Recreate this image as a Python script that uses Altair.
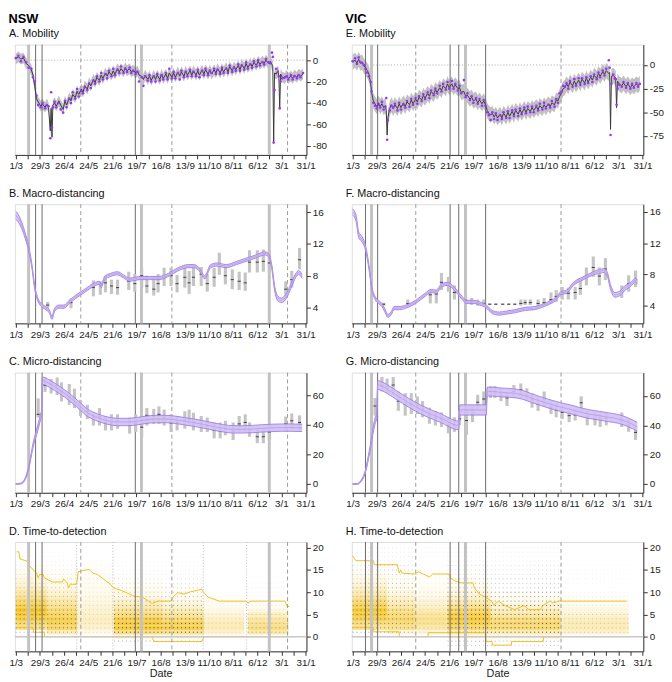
import json
import altair as alt
import pandas as pd

FONT = "Liberation Sans"
PW = 296
HEIGHTS = [112, 121, 122, 111]
X_DOMAIN = [-1, 337]
TICK_DAYS = list(range(0, 337, 14))
TICK_TEXT = ["1/3", "", "29/3", "", "26/4", "", "24/5", "", "21/6", "", "19/7", "", "16/8", "",
             "13/9", "", "11/10", "", "8/11", "", "6/12", "", "3/1", "", "31/1"]
LABEL_EXPR = "%s[round(datum.value / 14)]" % json.dumps(TICK_TEXT)

# ---------------- event lines (days since 1 March 2020) ----------------
nsw_thin = [23, 30.5, 138.6]
nsw_thick = [14.9, 145.7, 293.9]
nsw_dashed = [75.4, 181, 315.1]
nsw_dotted = [70.6, 112.6, 217.4, 267.6]
vic_thin = [14.9, 29, 113, 123, 154.2]
vic_thick = [21.9, 130.8]
vic_dashed = [73.2, 241.6]
vic_dotted = []

# ---------------- mobility: (day, fitted, observed) ----------------
nsw_mobility = [
    (0, 1, 2), (3, 3, 4), (6, 1, -1), (9, 2, 3), (12, -3, -2), (15, -5, -7), (18, -9, -8), (20, -14, -16),
    (22, -24, -20), (24, -36, -33), (26, -39, -42), (29, -43, -44), (31, -41, -40), (34, -44, -45),
    (36, -41, -42), (38, -44, -43), (40, -66, -73), (41, -45, -30), (42, -72, -63), (43, -42, -44),
    (45, -40, -39), (47, -43, -44), (50, -38, -40), (52, -42, -46), (55, -46, -49), (57, -38, -38),
    (59, -42, -44), (62, -35, -36), (64, -38, -40), (66, -32, -30), (69, -35, -36), (71, -29, -27),
    (73, -32, -34), (76, -27, -29), (78, -30, -31), (80, -24, -25), (83, -27, -28), (85, -21, -22),
    (87, -24, -26), (90, -18, -19), (92, -21, -22), (94, -16, -15), (97, -19, -20), (99, -14, -12),
    (101, -17, -18), (104, -12, -13), (106, -15, -17), (108, -11, -10), (111, -14, -15), (113, -10, -8),
    (115, -13, -14), (118, -8, -9), (120, -11, -12), (122, -8, -6), (125, -11, -12), (127, -7, -8),
    (129, -10, -11), (132, -8, -7), (134, -11, -12), (136, -9, -10), (139, -12, -13), (141, -10, -11),
    (143, -14, -20), (146, -15, -16), (148, -18, -24), (150, -14, -15), (153, -18, -19), (155, -15, -14),
    (157, -19, -20), (160, -14, -15), (162, -18, -20), (164, -14, -13), (167, -18, -19), (169, -13, -14),
    (171, -17, -18), (174, -13, -12), (176, -17, -18), (178, -12, -8), (181, -16, -17), (183, -12, -11),
    (185, -16, -17), (188, -11, -12), (190, -15, -18), (192, -11, -10), (195, -15, -16), (197, -10, -11),
    (199, -14, -15), (202, -10, -9), (204, -14, -15), (206, -10, -11), (209, -14, -15), (211, -10, -9),
    (213, -14, -16), (216, -9, -10), (218, -13, -14), (220, -9, -8), (223, -13, -14), (225, -9, -10),
    (227, -13, -12), (230, -9, -8), (232, -12, -13), (234, -8, -9), (237, -12, -13), (239, -8, -7),
    (241, -11, -12), (244, -7, -8), (246, -11, -12), (248, -6, -5), (251, -10, -11), (253, -6, -7),
    (255, -9, -10), (258, -5, -4), (260, -9, -10), (262, -4, -5), (265, -8, -9), (267, -3, -2),
    (269, -7, -8), (272, -3, -4), (274, -6, -7), (276, -2, -1), (279, -5, -6), (281, -1, 0),
    (283, -4, -5), (286, -1, -2), (288, -3, -4), (290, 0, 1), (293, -3, -2), (295, -1, -3),
    (297, -4, 7), (298, -6, 3), (299, -76, -77), (300, -12, -28), (302, -13, -8), (304, -10, -11),
    (305, -14, -15), (306, -45, -45), (307, -13, -20), (309, -16, -17), (312, -17, -16), (314, -14, -15),
    (316, -17, -18), (319, -15, -14), (321, -17, -18), (323, -14, -15), (326, -16, -17), (328, -13, -14),
    (330, -15, -16), (333, -13, -12),
]
vic_mobility = [
    (0, 3, 4), (3, 5, 7), (5, 2, 1), (7, 6, 8), (9, 2, 3), (11, 3, 2), (13, -1, 0), (15, -3, -4),
    (17, -6, -8), (19, -10, -12), (21, -20, -18), (22, -29, -28), (24, -38, -40), (26, -41, -43),
    (28, -44, -46), (30, -40, -42), (32, -44, -45), (34, -41, -39), (36, -45, -47), (38, -43, -44),
    (39, -48, -35), (40, -74, -79), (41, -55, -58), (43, -46, -48), (45, -42, -43), (47, -46, -45),
    (49, -42, -41), (52, -46, -48), (54, -41, -40), (56, -45, -47), (59, -40, -42), (61, -44, -45),
    (63, -39, -38), (66, -42, -44), (68, -37, -36), (70, -41, -42), (73, -36, -35), (75, -39, -41),
    (77, -34, -33), (80, -37, -38), (82, -32, -31), (84, -35, -36), (87, -30, -29), (89, -33, -35),
    (91, -28, -27), (94, -31, -32), (96, -26, -25), (98, -29, -30), (101, -24, -22), (103, -27, -28),
    (105, -22, -20), (108, -25, -26), (110, -20, -18), (112, -24, -25), (115, -20, -17), (117, -24, -25),
    (119, -21, -20), (122, -25, -27), (124, -24, -22), (126, -29, -30), (129, -28, -16), (131, -33, -34),
    (133, -32, -30), (136, -36, -37), (138, -34, -33), (140, -38, -40), (143, -36, -35), (145, -40, -41),
    (147, -37, -36), (150, -41, -43), (152, -38, -37), (154, -42, -43), (156, -48, -50), (158, -51, -53),
    (160, -53, -58), (162, -51, -50), (164, -55, -57), (166, -52, -51), (168, -56, -58), (171, -52, -53),
    (173, -56, -57), (175, -51, -50), (178, -55, -56), (180, -50, -49), (182, -54, -56), (185, -49, -48),
    (187, -53, -54), (189, -48, -47), (192, -52, -54), (194, -47, -46), (196, -51, -52), (199, -46, -45),
    (201, -50, -51), (203, -46, -44), (206, -49, -50), (208, -45, -44), (210, -48, -50), (213, -44, -43),
    (215, -47, -48), (217, -43, -41), (220, -46, -47), (222, -42, -40), (224, -45, -46), (227, -41, -42),
    (229, -44, -45), (231, -40, -38), (234, -42, -44), (236, -37, -36), (238, -38, -40), (240, -33, -30),
    (242, -30, -28), (244, -25, -22), (246, -24, -23), (248, -20, -19), (250, -23, -25), (252, -18, -17),
    (255, -22, -23), (257, -17, -15), (259, -21, -22), (262, -16, -14), (264, -20, -21), (266, -15, -14),
    (269, -19, -20), (271, -14, -13), (273, -18, -19), (276, -13, -12), (278, -16, -18), (280, -11, -10),
    (283, -14, -15), (285, -9, -8), (287, -12, -13), (290, -7, -6), (292, -10, -11), (294, -6, -4),
    (297, -9, 5), (298, -8, -3), (299, -68, -74), (300, -12, -20), (302, -11, -10), (304, -13, -14),
    (305, -14, -15), (306, -45, -42), (307, -17, -25), (309, -20, -21), (312, -22, -23), (314, -19, -18),
    (317, -23, -24), (319, -20, -19), (322, -24, -25), (324, -21, -20), (326, -23, -24), (329, -20, -19),
    (331, -22, -23), (333, -19, -20),
]
mobility_band_half = {"NSW": 5, "VIC": 8}

# ---------------- macro-distancing: model (day, mid, half) and survey (day, lo, hi, mean) -------------
nsw_macro_fit = [
    (0, 15.6, 0.5), (1, 15.5, 0.5), (7, 14.3, 0.4), (11, 13, 0.35), (15, 11.4, 0.3), (19, 9, 0.25),
    (22, 6.5, 0.25), (26, 4.9, 0.2), (30, 4.3, 0.2), (35, 3.9, 0.2), (39, 3.5, 0.2), (42, 2.7, 0.2),
    (45, 3.7, 0.2), (50, 4.1, 0.2), (56, 4.1, 0.2), (62, 4.7, 0.2), (69, 5.3, 0.2), (80, 6.1, 0.2),
    (91, 6.9, 0.2), (97, 7.1, 0.2), (99, 6.7, 0.2), (103, 7.7, 0.2), (110, 8.1, 0.2), (118, 8.3, 0.2),
    (125, 7.9, 0.2), (132, 7.5, 0.2), (144, 7.7, 0.2), (155, 7.7, 0.2), (166, 7.7, 0.2), (177, 8.1, 0.2),
    (188, 8.8, 0.2), (200, 9.2, 0.2), (207, 9.2, 0.2), (214, 8.6, 0.2), (219, 7.8, 0.2), (226, 9.2, 0.2),
    (233, 9.4, 0.2), (244, 9.2, 0.2), (256, 9.6, 0.2), (267, 10, 0.2), (278, 10.4, 0.2), (289, 10.8, 0.2),
    (293, 10.6, 0.2), (297, 9, 0.25), (300, 6.5, 0.3), (304, 5.1, 0.3), (308, 4.9, 0.3), (314, 5.5, 0.3),
    (319, 6.7, 0.3), (325, 8.1, 0.25), (328, 8.4, 0.25), (332, 7.9, 0.25),
]
nsw_macro_survey = [
    (37, 3.9, 4.7, 4.3), (64, 3.9, 5.1, 4.6), (90, 5.4, 7.4, 6.5), (98, 5.6, 7.3, 6.9), (104, 5.9, 8.0, 7.1),
    (111, 5.7, 7.5, 6.7), (118, 5.6, 7.5, 6.5), (131, 6.2, 8.5, 7.3), (138, 6.0, 8.2, 7.0), (146, 6.6, 8.9, 8.0),
    (152, 5.8, 8.0, 6.7), (160, 5.5, 7.8, 6.3), (165, 5.9, 8.2, 7.0), (172, 6.7, 9.0, 7.8), (180, 6.7, 9.0, 8.0),
    (187, 5.9, 8.1, 7.0), (196, 6.5, 9.0, 7.8), (201, 5.7, 8.6, 7.1), (206, 6.7, 9.1, 7.8), (215, 6.7, 9.1, 8.2),
    (222, 6.0, 8.2, 7.0), (230, 6.6, 9.0, 7.8), (236, 8.1, 10.9, 9.4), (243, 6.9, 9.1, 8.0), (251, 6.3, 8.8, 7.5),
    (259, 6.2, 8.5, 7.3), (266, 6.1, 8.4, 7.1), (271, 8.4, 11.2, 9.7), (280, 8.4, 11.2, 9.7), (287, 8.5, 11.3, 9.8),
    (294, 8.4, 11.2, 9.6), (313, 5.3, 7.3, 6.3), (320, 6.5, 8.6, 7.5), (329, 8.8, 11.5, 10.0),
]
vic_macro_fit = [
    (0, 16, 0.4), (4, 15.2, 0.4), (7, 13.1, 0.35), (11, 12.5, 0.35), (15, 11.4, 0.3), (19, 8.9, 0.25),
    (22, 6.4, 0.2), (26, 5, 0.2), (30, 4.5, 0.2), (34, 4.1, 0.2), (37, 3.5, 0.2), (41, 2.7, 0.2),
    (45, 3.1, 0.2), (48, 3.7, 0.2), (54, 3.7, 0.2), (62, 3.9, 0.2), (73, 4.5, 0.2), (84, 5.4, 0.2),
    (91, 5.9, 0.2), (97, 5.8, 0.2), (103, 6.6, 0.2), (110, 6.8, 0.2), (116, 6.4, 0.2), (121, 5.8, 0.2),
    (127, 5, 0.2), (132, 4.5, 0.2), (140, 4.5, 0.2), (147, 4.3, 0.2), (155, 3.9, 0.2), (162, 3.2, 0.2),
    (170, 3, 0.2), (177, 3.1, 0.2), (188, 3.3, 0.2), (200, 3.6, 0.2), (211, 3.7, 0.2), (222, 4.1, 0.2),
    (230, 4.5, 0.2), (237, 5, 0.2), (241, 5.6, 0.2), (248, 5.8, 0.2), (256, 6.8, 0.2), (267, 7.5, 0.2),
    (278, 8.1, 0.2), (286, 8.4, 0.25), (291, 8.5, 0.25), (295, 8.1, 0.25), (299, 6.4, 0.3), (304, 5.4, 0.3),
    (310, 5.6, 0.3), (315, 6.2, 0.3), (323, 6.8, 0.25), (328, 7.3, 0.25), (330, 7, 0.25),
]
vic_macro_survey = [
    (36, 4.0, 4.4, 4.2), (64, 3.9, 4.8, 4.3), (90, 4.3, 6.0, 5.4), (97, 4.3, 6.0, 5.5), (103, 6.0, 8.2, 7.0),
    (111, 5.8, 7.7, 6.8), (118, 4.8, 6.6, 5.7), (131, 4.1, 5.4, 4.7), (138, 4.1, 5.0, 4.5), (145, 4.0, 4.8, 4.3),
    (152, 4.0, 4.8, 4.3), (159, 4.1, 4.3, 4.2), (166, 4.1, 4.3, 4.2), (174, 4.1, 4.3, 4.2), (181, 4.1, 4.3, 4.2),
    (188, 4.1, 4.3, 4.2), (195, 4.0, 4.8, 4.3), (200, 4.1, 4.8, 4.4), (206, 4.1, 4.8, 4.4), (215, 3.9, 4.8, 4.3),
    (222, 4.0, 5.0, 4.4), (230, 4.3, 5.7, 4.8), (236, 4.5, 6.0, 5.2), (243, 4.8, 6.4, 5.6), (250, 4.8, 6.3, 5.6),
    (258, 4.8, 6.4, 5.7), (264, 5.4, 7.5, 6.2), (271, 6.6, 8.9, 7.8), (279, 7.7, 10.3, 8.9), (286, 6.6, 8.9, 7.8),
    (293, 7.3, 10.1, 8.7), (312, 5.0, 6.6, 5.8), (320, 5.8, 7.9, 6.8), (328, 6.4, 8.5, 7.3),
]

# ---------------- micro-distancing ----------------
nsw_micro_fit = [
    (0, 0, 0.3), (2, 0, 0.3), (6, 0.3, 0.3), (9, 1.5, 0.5), (15, 11, 1), (20, 26, 1.5), (26, 39, 2),
    (29, 46, 2), (30, 48, 2), (31, 70, 2.5), (39, 68, 2.5), (50, 64, 2.5), (62, 59, 2.5), (73, 53.5, 2.5),
    (84, 48, 2.5), (95, 45, 2.5), (106, 43, 2.5), (118, 42, 2.5), (129, 42, 2.5), (140, 42.5, 2.5),
    (151, 43.5, 2.5), (162, 44, 2.5), (174, 44, 2.5), (185, 43.5, 2.5), (196, 42.5, 2.5), (207, 41.5, 2.5),
    (218, 40.3, 2.5), (230, 38.8, 2.5), (241, 37.7, 2.5), (252, 37, 2.5), (263, 37, 2.5), (274, 37.2, 2.5),
    (286, 37.7, 2.5), (297, 38, 2.5), (308, 38.2, 2.5), (319, 38.2, 2.5), (332, 38, 2.5),
]
nsw_micro_survey = [
    (26, 45, 58, 47.2), (34, 62.4, 72.2, 66.7), (41, 61.3, 71.1, 67.8), (48, 60.2, 72.2, 66.7),
    (53, 55.9, 68.9, 62.4), (62, 53.7, 67.8, 59.1), (68, 51.5, 64.6, 58), (75, 46.1, 57, 51.5),
    (83, 43.9, 53.7, 49.3), (90, 39.6, 48.3, 45), (97, 39.6, 51.5, 45.7), (104, 36.3, 46.1, 41.7),
    (111, 36.3, 47.2, 41.3), (118, 37.4, 47.2, 42.8), (132, 34.1, 45, 39.6), (139, 35.2, 47.2, 41.3),
    (146, 32, 45, 38.5), (152, 39.6, 51.5, 46.5), (160, 40.7, 50.9, 46.1), (166, 40.7, 52.6, 47.2),
    (172, 39.6, 50.4, 45), (180, 35.2, 47.2, 41.3), (187, 36.3, 46.1, 41.7), (196, 37.4, 49.3, 43.3),
    (201, 39.6, 50.4, 43.9), (206, 36.3, 48.3, 41.7), (215, 35.2, 46.1, 40.7), (222, 35.2, 45, 39.6),
    (230, 30.9, 41.7, 36.3), (237, 30.9, 41.7, 35.7), (243, 33, 42.8, 37.4), (252, 29.8, 41.7, 35.7),
    (259, 35.2, 46.1, 40.7), (266, 35.2, 47.2, 41.7), (271, 32, 41.7, 36.7), (280, 27.6, 37.4, 32),
    (287, 27.6, 37.4, 32), (294, 29.8, 40.7, 35.2), (313, 35.7, 45.7, 40.7), (320, 37.4, 47.8, 42.8),
    (329, 36.3, 46.5, 41.7),
]
vic_micro_fit = [
    (0, 0, 0.3), (5, 0, 0.3), (9, 1.5, 0.5), (15, 9, 1), (20, 23.5, 1.5), (26, 43, 2), (28, 46.6, 2),
    (29, 67.5, 3), (35, 66.4, 3), (43, 63.7, 3), (50, 61, 3), (58, 58, 3), (65, 55.4, 3), (73, 52.7, 3),
    (80, 50.5, 3), (88, 48.4, 3), (95, 46.6, 3), (103, 44.8, 3), (110, 42.6, 3), (118, 40.4, 3),
    (123, 40, 3), (124, 50.5, 3.5), (155, 50.5, 3.5), (156, 63, 3), (162, 63, 3), (174, 62.4, 3),
    (185, 62, 3), (196, 61, 3), (207, 58.7, 3), (218, 56.5, 3), (230, 54.3, 3), (241, 52.5, 3),
    (252, 51, 3), (263, 49.2, 3), (274, 47.7, 3), (286, 46.6, 3), (297, 45.5, 3), (308, 44.4, 3),
    (319, 42.2, 3), (330, 39, 3),
]
vic_micro_survey = [
    (26, 46.6, 58.7, 53.2), (34, 63.1, 73, 67.5), (40, 62, 71.9, 66.4), (47, 60.9, 73, 67.5),
    (53, 49.9, 63.1, 56.5), (61, 46.6, 62, 54.3), (68, 47.7, 62, 54.3), (75, 47.7, 59.8, 53.2),
    (81, 45.5, 56.5, 51), (89, 41.1, 52.1, 46.6), (96, 40, 49.9, 44.8), (103, 38.9, 48.8, 44.4),
    (111, 34.5, 45.5, 40), (118, 35.6, 45.5, 40.4), (124, 40, 49.9, 44.4), (132, 33.4, 53.2, 43.3),
    (139, 42.2, 53.2, 47.7), (145, 51, 60.9, 55.8), (152, 53.2, 63.1, 58), (160, 58.7, 66.8, 63.1),
    (165, 58.7, 66.8, 63.1), (172, 56.5, 65.3, 60.9), (179, 53.2, 63.1, 58.7), (187, 58.7, 67.5, 63.1),
    (195, 58.7, 68.6, 64.2), (202, 56.5, 65.3, 59.8), (208, 52.1, 62, 57.6), (215, 49.9, 58.7, 54.3),
    (222, 53.2, 63.1, 58), (230, 47.7, 56.5, 52.1), (236, 45.5, 55.4, 50.5), (243, 44.4, 53.2, 48.8),
    (251, 42.2, 49.9, 46.6), (258, 43.3, 51, 47), (265, 48.8, 59.8, 55.4), (272, 40, 49.9, 45.5),
    (281, 40, 49.2, 44.4), (287, 38.9, 48.8, 44.4), (294, 40, 48.8, 44.8), (312, 38.9, 48.8, 43.3),
    (320, 35.6, 44.4, 40), (328, 30.1, 40, 35.2),
]

# ---------------- time-to-detection ----------------
HEAT_DELAYS = list(range(-2, 17))
DOT_DELAYS = list(range(-2, 21))
nsw_heat_periods = [(0, 36), (36, 71), (71, 114), (114, 170), (170, 218), (218, 265), (269, 316)]
nsw_heat_density = [
    [0, 0, 0, 0, .45, .6, .75, .85, .85, .75, .6, .45, .35, .25, .18, .12, .08, .05, .02],
    [0, 0, 0, .3, .6, .7, .7, .65, .55, .45, .35, .25, .18, .12, .08, .05, .03, .02, 0],
    [0, 0, 0, .1, .2, .25, .25, .22, .18, .15, .12, .1, .08, .06, .05, .04, .03, .02, .01],
    [0, 0, .1, .5, .75, .8, .7, .55, .4, .3, .2, .12, .08, .05, .03, .02, 0, 0, 0],
    [0, 0, .1, .45, .7, .7, .55, .4, .28, .18, .1, .06, .03, .02, 0, 0, 0, 0, 0],
    [0, 0, .05, .2, .3, .3, .22, .15, .1, .06, .04, .02, 0, 0, 0, 0, 0, 0, 0],
    [0, 0, 0, .35, .5, .45, .35, .25, .1, .05, 0, 0, 0, 0, 0, 0, 0, 0, 0],
]
nsw_dot_periods = [(0, 71), (71, 114), (114, 218), (218, 269), (269, 316)]
nsw_dot_density = [
    [0, 0, .05, .45, .7, .7, .65, .6, .55, .5, .45, .35, .3, .25, .2, .2, .15, .12, .1, .08, .06, .05, .04],
    [0, 0, .05, .2, .2, .2, .2, .2, .2, .15, .15, .15, .15, .1, .1, .1, .1, .1, .05, .05, .05, .05, .05],
    [.1, .45, .6, .9, .95, .9, .85, .8, .7, .6, .5, .4, .3, .25, .2, .15, .12, .1, .08, .06, .05, .04, .03],
    [0, 0, .1, .15, .15, .15, .15, .15, .08, .08, .08, .08, .08, 0, 0, 0, 0, 0, 0, 0, 0, 0, 0],
    [0, 0, .15, .4, .4, .35, .3, .25, .15, .15, .15, .08, .08, .08, .08, 0, 0, 0, 0, 0, 0, 0, 0],
]
vic_heat_periods = [(0, 40), (40, 73), (73, 110), (110, 160), (160, 241), (241, 320)]
vic_heat_density = [
    [0, 0, 0, 0, .4, .55, .7, .8, .8, .7, .55, .4, .3, .22, .15, .1, .06, .03, .01],
    [0, 0, 0, .15, .45, .55, .6, .55, .45, .35, .25, .18, .12, .08, .05, .03, .02, .01, 0],
    [0, 0, 0, .15, .35, .45, .45, .4, .3, .22, .15, .1, .07, .05, .03, .02, .01, 0, 0],
    [0, 0, .1, .3, .6, .75, .8, .75, .6, .45, .3, .2, .12, .08, .05, .03, .02, 0, 0],
    [0, 0, .1, .3, .55, .6, .5, .35, .25, .15, .08, .05, .02, 0, 0, 0, 0, 0, 0],
    [0, 0, 0, .2, .3, .3, .25, .18, .12, .08, .05, .02, 0, 0, 0, 0, 0, 0, 0],
]
vic_dot_periods = [(0, 73), (73, 110), (110, 241), (241, 320)]
vic_dot_density = [
    [0, 0, .05, .5, .6, .6, .6, .6, .6, .6, .6, .4, .4, .4, .4, .25, .25, .25, .25, .12, .12, .12, .12],
    [0, 0, .05, .2, .2, .2, .2, .2, .2, .2, .2, .2, .2, .08, .08, .08, .08, .08, .08, .08, .08, .08, .08],
    [.3, .4, .6, .9, .9, .9, .9, .9, .9, .9, .6, .6, .6, .35, .35, .35, .2, .2, .2, .1, .1, .1, .1],
    [0, 0, .1, .25, .25, .25, .25, .25, .12, .12, .12, .12, .12, .06, .06, .06, .06, .06, .06, 0, 0, 0, 0],
]
nsw_ttd_upper = [
    (1, 19.1), (3.7, 19.1), (4.8, 17.5), (13, 17), (16, 16), (20.4, 15), (24.2, 14.3), (26, 13.2), (27.9, 14),
    (31.6, 14), (33.4, 13.2), (42.7, 12.3), (53.9, 12.3), (55.7, 13), (59.5, 12.1), (61.3, 11), (63.2, 11.8),
    (70.6, 11.8), (72.5, 14.6), (79.9, 15), (85.5, 15.1), (89.2, 14.3), (94.8, 14), (102.2, 12.9),
    (109.6, 11.8), (113.3, 11), (117.1, 10.7), (122.6, 10.4), (128.2, 9.9), (133.8, 9.4), (137.5, 9.1),
    (146.8, 8.9), (152.4, 8.2), (157.9, 7.5), (165.4, 8), (180.2, 8), (182.1, 8.9), (187.7, 9.9),
    (195.1, 9.6), (202.5, 10.1), (209.9, 10.4), (215.5, 10.7), (218.1, 9.9), (223, 8.9), (236, 8),
    (267.6, 8), (269.4, 7.5), (271.3, 8), (312.1, 8), (314.7, 6.8), (317, 6.8),
]
nsw_ttd_lower = [(1, 2.1), (20, 2.1), (20.5, 1), (33, 1), (33.5, 0), (158, 0), (160, -1.1), (216, -1.1),
                 (218, 0), (317, 0)]
vic_ttd_upper = [
    (0, 18.2), (3.7, 17.1), (24.2, 17.1), (24.9, 16.2), (52, 16.2), (53.9, 14.3), (55.8, 15), (57.6, 14.3),
    (72.5, 14.1), (76.2, 14.6), (81.8, 14.1), (89.2, 13.4), (92.9, 14.1), (111.5, 14.1), (113.4, 13.2),
    (119, 12.5), (126.4, 12.1), (139.4, 12.1), (141.2, 11), (146.8, 9.6), (154.2, 8.9), (161.7, 7.9),
    (163.5, 7.1), (169.1, 8), (176.5, 7), (187.7, 6.1), (198.8, 7), (204.4, 6.1), (217.4, 6.1),
    (221.1, 7.1), (228.6, 8), (232.3, 7.6), (239.7, 8), (317.7, 8),
]
vic_ttd_lower = [(0, 2.1), (24.2, 2.1), (24.5, 1.1), (53.9, 1.1), (54.2, 0), (87.4, 0), (87.7, 0.9),
                 (154.2, 0.9), (154.5, -1.1), (161.7, -1.1), (162, -1.9), (184, -1.9), (184.3, -1.1),
                 (221.1, -1.1), (221.4, 0), (240, 0)]

# ---------------- helpers ----------------
AXIS_COMMON = dict(grid=False, tickSize=4, labelPadding=2, labelFontSize=10, labelColor="#222",
                   domainColor="#333", tickColor="#333", labelFont=FONT)


def X(field="day", title=None):
    kw = dict(AXIS_COMMON)
    kw.update(values=TICK_DAYS, labelExpr=LABEL_EXPR, labelFlush=False, labelOverlap=False)
    if title:
        kw.update(title=title, titleFontSize=11, titleFontWeight="normal", titleColor="#222",
                  titlePadding=1, titleFont=FONT)
    else:
        kw.update(title=None)
    return alt.X(f"{field}:Q", scale=alt.Scale(domain=X_DOMAIN, nice=False, zero=False),
                 axis=alt.Axis(**kw))


def Y(field, domain, ticks):
    kw = dict(AXIS_COMMON)
    kw.update(orient="right", values=ticks, title=None,
              labelExpr="datum.value < 0 ? '-' + abs(datum.value) : '' + datum.value")
    return alt.Y(f"{field}:Q", scale=alt.Scale(domain=domain, nice=False, zero=False),
                 axis=alt.Axis(**kw))


def vline_layers(thin, thick, dashed, dotted, xt):
    out = []
    if dotted:
        out.append(alt.Chart(pd.DataFrame({"day": dotted})).mark_rule(
            color="#bdbdbd", strokeWidth=1, strokeDash=[1, 2]).encode(x=X(title=xt)))
    if thick:
        out.append(alt.Chart(pd.DataFrame({"day": thick})).mark_rule(
            color="#c2c2c2", strokeWidth=3).encode(x=X(title=xt)))
    if thin:
        out.append(alt.Chart(pd.DataFrame({"day": thin})).mark_rule(
            color="#6b6b6b", strokeWidth=1).encode(x=X(title=xt)))
    if dashed:
        out.append(alt.Chart(pd.DataFrame({"day": dashed})).mark_rule(
            color="#9a9a9a", strokeWidth=1, strokeDash=[4, 3]).encode(x=X(title=xt)))
    return out


def ptitle(text):
    return alt.TitleParams(text=text, anchor="start", fontSize=11, fontWeight="normal", offset=4,
                           color="#111", font=FONT)


def mobility_panel(rows, half, domain, ticks, lines, title, h):
    df = pd.DataFrame(rows, columns=["day", "fit", "obs"])
    df["lo"] = df["fit"] - half
    df["hi"] = df["fit"] + half
    band = alt.Chart(df).mark_area(color="#bdbdbd", opacity=0.95).encode(
        x=X(), y=Y("lo", domain, ticks), y2="hi")
    zero = alt.Chart(pd.DataFrame({"v": [0]})).mark_rule(
        color="#a8a8a8", strokeDash=[1, 2]).encode(y=Y("v", domain, ticks))
    line = alt.Chart(df).mark_line(color="#3a3a3a", strokeWidth=1).encode(
        x=X(), y=Y("fit", domain, ticks))
    pts = alt.Chart(df).mark_circle(color="#9933ff", size=7, opacity=1).encode(
        x=X(), y=Y("obs", domain, ticks))
    layers = [zero, band] + vline_layers(*lines, None, None) + [line, pts]
    return alt.layer(*layers).properties(width=PW, height=h, title=ptitle(title))


def dist_panel(fit_rows, survey_rows, domain, ticks, lines, title, h):
    ldf = pd.DataFrame(fit_rows, columns=["day", "mid", "half"])
    ldf["lo"] = ldf["mid"] - ldf["half"]
    ldf["hi"] = ldf["mid"] + ldf["half"]
    bdf = pd.DataFrame(survey_rows, columns=["day", "lo", "hi", "mean"])
    bdf["x0"] = bdf["day"] - 1.8
    bdf["x1"] = bdf["day"] + 1.8
    boxes = alt.Chart(bdf).mark_rect(color="#c4c4c4").encode(
        x=X("x0"), x2="x1", y=Y("lo", domain, ticks), y2="hi")
    means = alt.Chart(bdf).mark_rule(color="#3a3a3a", strokeWidth=1).encode(
        x=X("x0"), x2="x1", y=Y("mean", domain, ticks))
    ribbon = alt.Chart(ldf).mark_area(color="#d2c0f5", opacity=0.9, interpolate="monotone").encode(
        x=X(), y=Y("lo", domain, ticks), y2="hi")
    edges = [alt.Chart(ldf).mark_line(color=c, strokeWidth=w, interpolate="monotone").encode(
        x=X(), y=Y(f, domain, ticks)) for f, c, w in
        [("lo", "#9f7fe3", 0.9), ("hi", "#9f7fe3", 0.9), ("mid", "#b49be9", 0.8)]]
    layers = vline_layers(*lines, None, None) + [boxes, means, ribbon] + edges
    return alt.layer(*layers).properties(width=PW, height=h, title=ptitle(title))


def ttd_panel(heat_p, heat_d, dot_p, dot_d, upper, lower, lines, dotted, title, h):
    domain, ticks = [-3.3, 21.3], [0, 5, 10, 15, 20]
    hrows = []
    for (s, e), prof in zip(heat_p, heat_d):
        for d, a in zip(HEAT_DELAYS, prof):
            if a > 0:
                hrows.append({"x0": s, "x1": e, "lo": d - 0.5, "hi": d + 0.5, "a": min(1.0, a * 1.05)})
    drows = []
    for (s, e), prof in zip(dot_p, dot_d):
        for d, a in zip(DOT_DELAYS, prof):
            if a > 0:
                drows.append({"x0": s, "x1": e, "y": d, "a": a * 0.75})
    xt = "Date"
    heat = alt.Chart(pd.DataFrame(hrows)).mark_rect(color="#f4c21c").encode(
        x=X("x0", xt), x2="x1", y=Y("lo", domain, ticks), y2="hi",
        opacity=alt.Opacity("a:Q", scale=None))
    dots = alt.Chart(pd.DataFrame(drows)).mark_rule(color="#000", strokeWidth=1, strokeDash=[1, 3]).encode(
        x=X("x0", xt), x2="x1", y=Y("y", domain, ticks), opacity=alt.Opacity("a:Q", scale=None))
    zero = alt.Chart(pd.DataFrame({"v": [0]})).mark_rule(color="#c8c8c8", strokeWidth=1.5).encode(
        y=Y("v", domain, ticks))
    up = alt.Chart(pd.DataFrame(upper, columns=["day", "v"])).mark_line(
        color="#f0c020", strokeWidth=1).encode(x=X("day", xt), y=Y("v", domain, ticks))
    lo = alt.Chart(pd.DataFrame(lower, columns=["day", "v"])).mark_line(
        color="#f0c020", strokeWidth=1).encode(x=X("day", xt), y=Y("v", domain, ticks))
    layers = [heat, dots, lo, zero, up] + vline_layers(*lines, dotted, xt)
    return alt.layer(*layers).properties(width=PW, height=h, title=ptitle(title))


def column(name, letters, mob, half, mdom, mticks, macro_fit, macro_s, mac_dom, micro_fit, micro_s,
           mic_dom, heat_p, heat_d, dot_p, dot_d, up, low, lines, dotted):
    a = mobility_panel(mob, half, mdom, mticks, lines, f"{letters[0]}. Mobility", HEIGHTS[0])
    b = dist_panel(macro_fit, macro_s, mac_dom, [4, 8, 12, 16], lines, f"{letters[1]}. Macro-distancing",
                   HEIGHTS[1])
    c = dist_panel(micro_fit, micro_s, mic_dom, [0, 20, 40, 60], lines, f"{letters[2]}. Micro-distancing",
                   HEIGHTS[2])
    d = ttd_panel(heat_p, heat_d, dot_p, dot_d, up, low, lines, dotted, f"{letters[3]}. Time-to-detection",
                  HEIGHTS[3])
    return alt.vconcat(a, b, c, d, spacing=16).properties(
        title=alt.TitleParams(text=name, anchor="start", fontSize=13, fontWeight="bold", offset=2,
                              color="#000", font=FONT))


nsw_col = column("NSW", "ABCD", nsw_mobility, mobility_band_half["NSW"], [-88.5, 14.5], [-80, -60, -40, -20, 0],
                 nsw_macro_fit, nsw_macro_survey, [2, 17], nsw_micro_fit, nsw_micro_survey, [-6, 75.5],
                 nsw_heat_periods, nsw_heat_density, nsw_dot_periods, nsw_dot_density,
                 nsw_ttd_upper, nsw_ttd_lower, (nsw_thin, nsw_thick, nsw_dashed), nsw_dotted)
vic_col = column("VIC", "EFGH", vic_mobility, mobility_band_half["VIC"], [-95, 21.5], [-75, -50, -25, 0],
                 vic_macro_fit, vic_macro_survey, [1.75, 17], vic_micro_fit, vic_micro_survey, [-6, 76],
                 vic_heat_periods, vic_heat_density, vic_dot_periods, vic_dot_density,
                 vic_ttd_upper, vic_ttd_lower, (vic_thin, vic_thick, vic_dashed), vic_dotted)

chart = alt.hconcat(nsw_col, vic_col, spacing=18).properties(padding=0).configure_view(
    stroke=None).configure(font=FONT)

chart.save("out.html", embed_options={"renderer": "svg", "actions": False})
